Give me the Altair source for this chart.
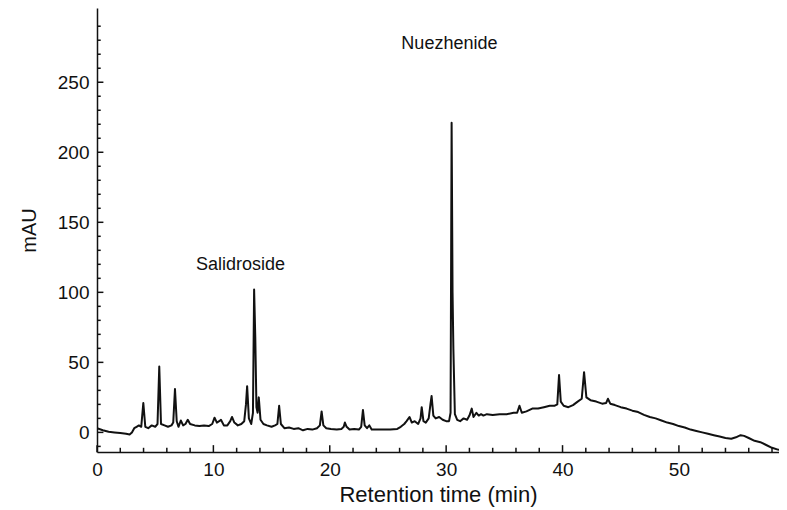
import altair as alt
import pandas as pd

# Chromatogram trace (retention time in min, absorbance in mAU)
trace_time = [
    0, 0.5, 1.0, 1.5, 2.0, 2.5, 2.8, 3.0, 3.2, 3.4,
    3.6, 3.8, 3.98, 4.15, 4.4, 4.7, 5.0, 5.2, 5.35, 5.5,
    5.8, 6.1, 6.4, 6.55, 6.7, 6.85, 7.0, 7.2, 7.4, 7.6,
    7.8, 8.0, 8.4, 8.8, 9.2, 9.6, 9.9, 10.1, 10.3, 10.5,
    10.65, 10.9, 11.2, 11.45, 11.6, 11.8, 12.1, 12.4, 12.65, 12.8,
    12.9, 13.05, 13.25, 13.4, 13.5, 13.6, 13.7, 13.8, 13.9, 14.05,
    14.3, 14.6, 15.0, 15.3, 15.5, 15.65, 15.8, 16.1, 16.5, 16.9,
    17.3, 17.7, 18.1, 18.5, 18.9, 19.15, 19.3, 19.45, 19.7, 20.1,
    20.6, 21.0, 21.2, 21.3, 21.45, 21.7, 22.1, 22.5, 22.7, 22.85,
    23.0, 23.2, 23.4, 23.6, 24.0, 24.6, 25.2, 25.8, 26.1, 26.4,
    26.6, 26.85, 27.05, 27.3, 27.6, 27.8, 27.9, 28.05, 28.25, 28.5,
    28.65, 28.75, 28.9, 29.1, 29.4, 29.7, 30.0, 30.25, 30.38, 30.47,
    30.55, 30.62, 30.75, 30.95, 31.2, 31.5, 31.8, 32.0, 32.2, 32.35,
    32.6, 32.8, 33.0, 33.2, 33.5, 34.0, 34.6, 35.2, 35.8, 36.1,
    36.3, 36.5, 36.9, 37.4, 37.9, 38.4, 38.9, 39.3, 39.55, 39.7,
    39.85, 40.1, 40.5, 40.9, 41.3, 41.65, 41.85, 42.05, 42.4, 42.9,
    43.4, 43.75, 43.9, 44.1, 44.5, 45.0, 45.5, 46.0, 46.5, 47.0,
    47.5, 48.0, 48.5, 49.0, 49.5, 50.0, 50.5, 51.0, 51.5, 52.0,
    52.5, 53.0, 53.5, 54.0, 54.5, 54.9, 55.3, 55.6, 56.0, 56.5,
    57.0, 57.5, 58.0, 58.5, 59.0, 59.3,
]
trace_mau = [
    3, 1.5, 0.5, 0, -0.5, -1, -1.5, 0, 3, 4,
    5, 4, 21, 4, 3, 5, 4, 6, 47, 6,
    5, 4, 5, 7, 31, 8, 4, 8.5, 5, 6,
    9, 6, 5, 4.5, 5, 4.5, 6, 10.5, 7, 8,
    9, 5, 5, 8, 11, 7, 5, 6, 8, 20,
    33, 10, 6, 14, 102, 68, 18, 14, 25, 9,
    6, 5, 4, 5, 6, 19, 6, 3, 3.5, 2.5,
    3, 1.5, 2.5, 2, 3, 5, 15, 5, 3, 2.5,
    2, 2.5, 4, 7, 4, 2, 2.5, 2, 4, 16,
    5, 3, 5, 2, 2, 2, 2, 2.5, 4, 6,
    8, 11, 7, 8, 6, 10, 18, 8, 7, 10,
    20, 26, 12, 10, 11, 9, 8, 8, 14, 221,
    100, 60, 13, 9, 8, 10, 9, 12, 17, 11,
    14, 12, 13, 12, 13, 12.5, 13, 13, 14, 14,
    19, 14, 15, 17, 17, 18, 19, 19, 20, 41,
    22, 19, 18, 19.5, 22, 24, 43, 25, 23, 22,
    20.5, 21, 24, 20.5, 19.5, 18, 17, 15.5, 14.5, 12.5,
    11, 10, 8.5, 7, 6, 4.5, 3.5, 2, 1, 0,
    -1, -2, -3, -4, -4.5, -3.5, -2, -2.5, -4, -6,
    -7, -9, -11, -12.3, -12.8, -13,
]

peak_names = ["Salidroside", "Nuezhenide"]
peak_label_time = [12.33, 30.28]
peak_label_mau = [115.7, 273.6]

x_major = [0, 10, 20, 30, 40, 50]
x_minor = [v for v in range(2, 59, 2) if v % 10 != 0]
y_major = [0, 50, 100, 150, 200, 250]
y_minor = [v for v in range(-10, 301, 10) if v % 50 != 0]

FONT = "Liberation Sans"
TICK_COLOR = "#111111"
X_MAX = 58.6
Y_MIN, Y_MAX = -14, 303

trace = pd.DataFrame({"t": trace_time, "v": trace_mau})
labels = pd.DataFrame({"name": peak_names, "t": peak_label_time, "v": peak_label_mau})

xs = alt.Scale(domain=[0, X_MAX], nice=False, zero=False)
ys = alt.Scale(domain=[Y_MIN, Y_MAX], nice=False, zero=False)

x_axis = alt.Axis(values=x_major, title="Retention time (min)", ticks=False, grid=False,
                  labelPadding=8, titlePadding=5, format="d", labelFlush=False,
                  titleFontSize=22)
y_axis = alt.Axis(values=y_major, title="mAU", ticks=False, grid=False,
                  labelPadding=8, titlePadding=18, format="d", labelFlush=False)


def X(field):
    return alt.X(field, scale=xs, axis=x_axis)


def Y(field):
    return alt.Y(field, scale=ys, axis=y_axis)


line = alt.Chart(trace).mark_line(
    color="#111111", strokeWidth=2, clip=True, strokeJoin="round"
).encode(x=X("t:Q"), y=Y("v:Q"))

# inward tick marks on the x axis, drawn as tick marks centred just inside the frame
xt_major = pd.DataFrame({"t": x_major, "ym": [Y_MIN + 2.4] * len(x_major)})
xt_minor = pd.DataFrame({"t": x_minor, "ym": [Y_MIN + 1.4] * len(x_minor)})
# inward tick marks on the y axis
yt = pd.DataFrame({"v": y_major + y_minor,
                   "x0": [0] * (len(y_major) + len(y_minor)),
                   "x1": [0.55] * len(y_major) + [0.32] * len(y_minor)})

xticks_major = alt.Chart(xt_major).mark_tick(
    color=TICK_COLOR, thickness=1.5, size=7, opacity=1).encode(x=X("t:Q"), y=Y("ym:Q"))
xticks_minor = alt.Chart(xt_minor).mark_tick(
    color=TICK_COLOR, thickness=1.5, size=4.5, opacity=1).encode(x=X("t:Q"), y=Y("ym:Q"))
yticks = alt.Chart(yt).mark_rule(color=TICK_COLOR, strokeWidth=1.5).encode(
    y=Y("v:Q"), x=X("x0:Q"), x2="x1:Q")

text = alt.Chart(labels).mark_text(
    font=FONT, fontSize=18, align="center", baseline="alphabetic", color="#111111"
).encode(x=X("t:Q"), y=Y("v:Q"), text="name:N")

chart = alt.layer(line, xticks_major, xticks_minor, yticks, text).properties(
    width=682, height=444,
    autosize=alt.AutoSizeParams(type="none"),
    padding={"left": 89, "top": 0, "right": 0, "bottom": 58},
).configure_view(stroke=None).configure_axis(
    domainColor="#111111", domainWidth=1.5,
    labelFont=FONT, labelFontSize=19, labelColor="#111111",
    titleFont=FONT, titleFontSize=20, titleColor="#111111", titleFontWeight="normal",
)

chart.save("out.html", embed_options={"renderer": "svg", "actions": False})
